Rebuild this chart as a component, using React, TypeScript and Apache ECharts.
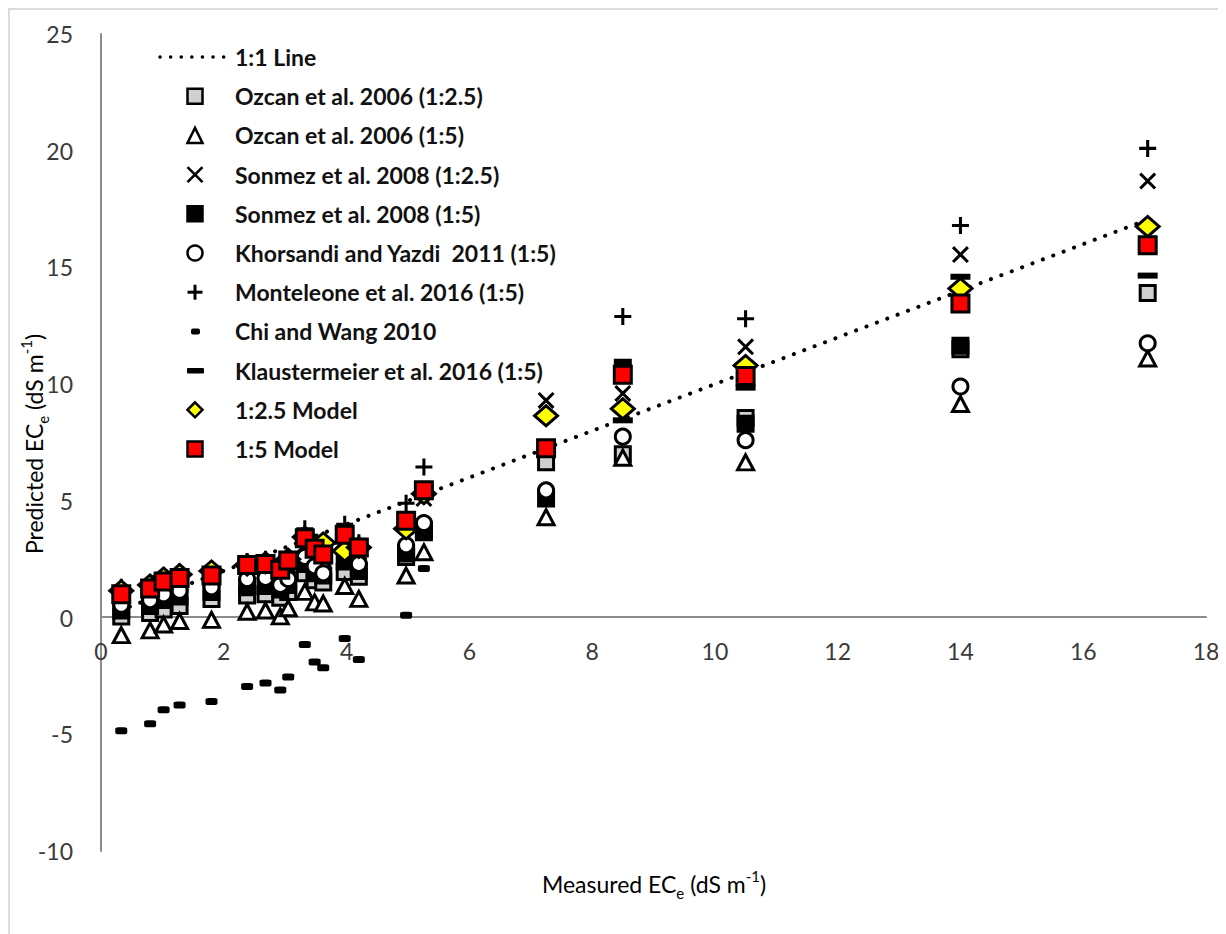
import React, { useEffect, useRef } from "react";
import * as echarts from "echarts";

// ---------- data ----------
const measured = [0.33, 0.8, 1.02, 1.28, 1.8, 2.38, 2.68, 2.92, 3.05, 3.32, 3.48, 3.62, 3.97, 4.2, 4.97, 5.26, 7.25, 8.5, 10.5, 14.0, 17.05];
const ozcan25 = [0.05, 0.2, 0.35, 0.5, 0.8, 0.95, 1.0, 0.85, 1.1, 1.9, 1.6, 1.5, 1.95, 1.75, 2.6, 3.75, 6.65, 7.0, 8.55, 11.5, 13.9];
const ozcan5 = [-0.75, -0.55, -0.3, -0.15, -0.1, 0.25, 0.3, 0.05, 0.4, 1.1, 0.65, 0.6, 1.35, 0.8, 1.8, 2.8, 4.3, 6.85, 6.65, 9.15, 11.1];
const sonmez25 = [0.9, 1.1, 1.45, 1.6, 1.75, 2.0, 2.1, 1.9, 2.2, 3.1, 2.7, 2.5, 3.3, 2.8, 3.9, 5.1, 9.3, 9.6, 11.6, 15.55, 18.7];
const sonmez5 = [0.3, 0.5, 0.75, 0.9, 1.1, 1.3, 1.35, 1.2, 1.4, 2.3, 1.9, 1.8, 2.4, 2.0, 2.75, 3.65, 5.1, 10.7, 8.3, 11.65, null];
const khorsandi = [0.55, 0.75, 1.0, 1.15, 1.3, 1.65, 1.7, 1.4, 1.65, 2.6, 2.2, 1.9, 2.85, 2.3, 3.1, 4.05, 5.45, 7.75, 7.6, 9.9, 11.75];
const monteleone = [1.3, 1.45, 1.8, 1.95, 2.1, 2.4, 2.5, 2.3, 2.6, 3.8, 3.2, 3.0, 4.0, 3.2, 4.9, 6.45, null, 12.9, 12.8, 16.8, 20.1];
const chiWang = [-4.85, -4.55, -3.95, -3.75, -3.6, -2.95, -2.8, -3.1, -2.55, -1.15, -1.9, -2.15, -0.9, -1.8, 0.1, 2.1, null, null, null, null, null];
const klauster = [null, null, null, null, null, null, null, null, null, null, null, null, null, null, null, null, null, 8.45, 9.85, 14.6, 14.65];
const model25 = [1.15, 1.4, 1.7, 1.85, 2.0, 2.25, 2.35, 2.15, 2.5, 3.45, 3.1, 3.2, 2.85, 3.0, 3.8, 5.3, 8.65, 8.95, 10.8, 14.1, 16.75];
const model15 = [1.0, 1.25, 1.55, 1.7, 1.8, 2.25, 2.3, 2.05, 2.45, 3.4, 2.95, 2.7, 3.55, 3.0, 4.15, 5.45, 7.25, 10.4, 10.35, 13.45, 15.95];
const oneToOne = [0.3, 17.05];

const legendNames = [
  "1:1 Line",
  "Ozcan et al. 2006 (1:2.5)",
  "Ozcan et al. 2006 (1:5)",
  "Sonmez et al. 2008 (1:2.5)",
  "Sonmez et al. 2008 (1:5)",
  "Khorsandi and Yazdi  2011 (1:5)",
  "Monteleone et al. 2016 (1:5)",
  "Chi and Wang 2010",
  "Klaustermeier et al. 2016 (1:5)",
  "1:2.5 Model",
  "1:5 Model",
];

const xTicks = { min: 0, max: 18, interval: 2 };
const yTicks = { min: -10, max: 25, interval: 5 };

// ---------- helpers ----------
const pair = (ys: (number | null)[]) =>
  measured.map((x, i) => (ys[i] == null ? null : [x, ys[i]])).filter((d) => d !== null);

const PLUS = "path://M4.1,0H5.9V4.1H10V5.9H5.9V10H4.1V5.9H0V4.1H4.1Z";
const a = 1.25;
const CROSS = `path://M0,${a}L${a},0L5,${5 - a}L${10 - a},0L10,${a}L${5 + a},5L10,${10 - a}L${10 - a},10L5,${5 + a}L${a},10L0,${10 - a}L${5 - a},5Z`;

const FONT = "Lato, 'Open Sans', sans-serif";
const GRID = { left: 91, right: 20, top: 24, bottom: 83 };
const CH = 926;

export default function App() {
  const ref = useRef<HTMLDivElement>(null);
  useEffect(() => {
    if (!ref.current) return;
    const chart = echarts.init(ref.current, null, { renderer: "svg" });
    const black = "#000";
    const sc = (name: string, data: any[], symbol: string, size: any, itemStyle: any) => ({
      name,
      type: "scatter",
      data,
      symbol,
      symbolSize: size,
      itemStyle: { opacity: 1, ...itemStyle },
      emphasis: { disabled: true },
    });

    // manual legend
    const lx = 185;
    const ty = 47;
    const gap = 39.2;
    const legendEls: any[] = [];
    const bw = 2.5;
    legendNames.forEach((n, i) => {
      const cy = ty + i * gap;
      legendEls.push({
        type: "text",
        x: 225,
        y: cy,
        style: { text: n, font: `bold 23px ${FONT}`, fill: "#111", verticalAlign: "middle" },
      });
    });
    const s = 7.5;
    const cy = (i: number) => ty + i * gap;
    legendEls.push(
      { type: "line", shape: { x1: 150, y1: cy(0), x2: 214, y2: cy(0) }, style: { stroke: black, lineWidth: 3.5, lineDash: [0.1, 10.5], lineCap: "round" } },
      { type: "rect", shape: { x: lx - s, y: cy(1) - s, width: 2 * s, height: 2 * s }, style: { fill: "#d0d0d0", stroke: black, lineWidth: bw } },
      { type: "polygon", shape: { points: [[lx, cy(2) - s], [lx + s, cy(2) + s], [lx - s, cy(2) + s]] }, style: { fill: "#fff", stroke: black, lineWidth: bw } },
      { type: "line", shape: { x1: lx - s, y1: cy(3) - s, x2: lx + s, y2: cy(3) + s }, style: { stroke: black, lineWidth: 2.6 } },
      { type: "line", shape: { x1: lx - s, y1: cy(3) + s, x2: lx + s, y2: cy(3) - s }, style: { stroke: black, lineWidth: 2.6 } },
      { type: "rect", shape: { x: lx - s, y: cy(4) - s, width: 2 * s, height: 2 * s }, style: { fill: black, stroke: black, lineWidth: bw } },
      { type: "circle", shape: { cx: lx, cy: cy(5), r: s }, style: { fill: "#fff", stroke: black, lineWidth: bw } },
      { type: "line", shape: { x1: lx - s, y1: cy(6), x2: lx + s, y2: cy(6) }, style: { stroke: black, lineWidth: 3 } },
      { type: "line", shape: { x1: lx, y1: cy(6) - s, x2: lx, y2: cy(6) + s }, style: { stroke: black, lineWidth: 3 } },
      { type: "rect", shape: { x: lx - 4, y: cy(7) - 3, width: 9, height: 6, r: 2 }, style: { fill: black } },
      { type: "rect", shape: { x: lx - 8, y: cy(8) - 2.5, width: 17, height: 5.5, r: 1 }, style: { fill: black } },
      { type: "polygon", shape: { points: [[lx, cy(9) - s], [lx + s, cy(9)], [lx, cy(9) + s], [lx - s, cy(9)]] }, style: { fill: "#ffff00", stroke: black, lineWidth: bw } },
      { type: "rect", shape: { x: lx - s, y: cy(10) - s, width: 2 * s, height: 2 * s }, style: { fill: "#ff0000", stroke: black, lineWidth: bw } }
    );

    const titleStyle = {
      base: { fontSize: 23, fontFamily: FONT, color: "#3a3a3a", lineHeight: 32 },
      sub: { fontSize: 15, fontFamily: FONT, color: "#3a3a3a", lineHeight: 32, verticalAlign: "bottom" },
      sup: { fontSize: 15, fontFamily: FONT, color: "#3a3a3a", lineHeight: 32, verticalAlign: "top" },
    };

    // x axis sits on y = 0: offset it up from the grid bottom by the -10..0 span
    const plotH = CH - GRID.top - GRID.bottom;
    const zeroOffset = (plotH * (0 - yTicks.min)) / (yTicks.max - yTicks.min);

    const option: any = {
      animation: false,
      backgroundColor: "#fff",
      grid: { ...GRID, containLabel: false },
      xAxis: {
        type: "value",
        ...xTicks,
        offset: -zeroOffset,
        axisLine: { onZero: false, lineStyle: { color: "#8c8c8c", width: 2 } },
        axisTick: { show: false },
        splitLine: { show: false },
        axisLabel: { fontSize: 23, fontFamily: FONT, color: "#3a3a3a", margin: 22 },
      },
      yAxis: {
        type: "value",
        ...yTicks,
        axisLine: { show: true, onZero: false, lineStyle: { color: "#8c8c8c", width: 2 } },
        axisTick: { show: false },
        splitLine: { show: false },
        axisLabel: { fontSize: 23, fontFamily: FONT, color: "#3a3a3a", margin: 28 },
      },
      graphic: [
        ...legendEls,
        {
          type: "text",
          x: 644,
          y: 874,
          style: {
            text: "{base|Measured EC}{sub|e}{base| (dS m}{sup|-1}{base|)}",
            rich: titleStyle,
            align: "center",
            verticalAlign: "middle",
          },
        },
        {
          type: "text",
          x: 24,
          y: 434,
          rotation: Math.PI / 2,
          style: {
            text: "{base|Predicted EC}{sub|e}{base| (dS m}{sup|-1}{base|)}",
            rich: titleStyle,
            align: "center",
            verticalAlign: "middle",
          },
        },
      ],
      series: [
        {
          name: legendNames[0],
          type: "line",
          data: oneToOne.map((v) => [v, v]),
          symbol: "none",
          lineStyle: { color: black, width: 4, type: [0.1, 11], cap: "round", opacity: 1 },
          emphasis: { disabled: true },
          z: 1,
        },
        sc(legendNames[1], pair(ozcan25), "rect", 15, { color: "#d0d0d0", borderColor: black, borderWidth: 3 }),
        sc(legendNames[2], pair(ozcan5), "triangle", [16, 15], { color: "#fff", borderColor: black, borderWidth: 3 }),
        sc(legendNames[3], pair(sonmez25), CROSS, 17, { color: black }),
        sc(legendNames[4], pair(sonmez5), "rect", 15, { color: black, borderColor: black, borderWidth: 3 }),
        sc(legendNames[5], pair(khorsandi), "circle", 15, { color: "#fff", borderColor: black, borderWidth: 3 }),
        sc(legendNames[6], pair(monteleone), PLUS, 17, { color: black }),
        sc(legendNames[7], pair(chiWang), "roundRect", [12, 7], { color: black }),
        sc(legendNames[8], pair(klauster), "rect", [20, 6], { color: black }),
        sc(legendNames[9], pair(model25), "diamond", [23, 20], { color: "#ffff00", borderColor: black, borderWidth: 3 }),
        sc(legendNames[10], pair(model15), "rect", 17, { color: "#ff0000", borderColor: black, borderWidth: 3 }),
      ],
    };
    chart.setOption(option);
    return () => chart.dispose();
  }, []);
  return (
    <div
      ref={ref}
      style={{
        width: 1218,
        height: CH,
        borderTop: "2px solid #dcdcdc",
        borderLeft: "2px solid #dcdcdc",
        boxSizing: "border-box",
        background: "#fff",
      }}
    />
  );
}
